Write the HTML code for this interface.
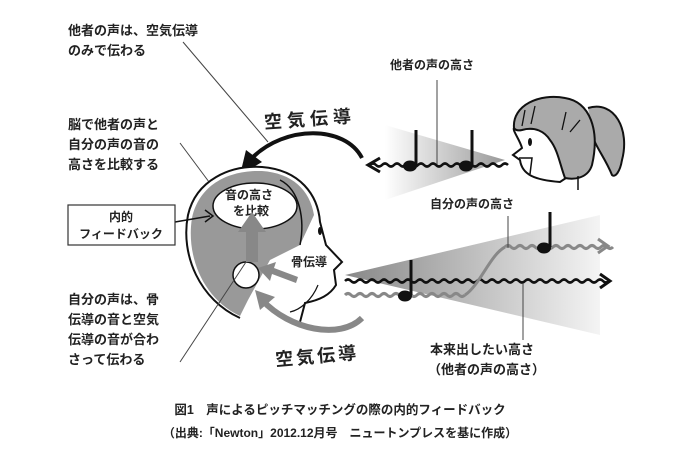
<!DOCTYPE html>
<html><head><meta charset="utf-8"><style>
html,body{margin:0;padding:0;background:#fff}
svg{display:block}
text{font-family:"Liberation Sans","Noto Sans CJK JP",sans-serif;font-weight:bold;fill:#222}
</style></head><body>
<svg id="s" width="680" height="474" viewBox="0 0 680 474" xmlns="http://www.w3.org/2000/svg">
<defs>
<linearGradient id="g1" x1="1" y1="0" x2="0" y2="0"><stop offset="0" stop-color="#999"/><stop offset="1" stop-color="#fff"/></linearGradient>
<linearGradient id="g2" x1="0" y1="0" x2="1" y2="0"><stop offset="0" stop-color="#888"/><stop offset="1" stop-color="#f4f4f4"/></linearGradient>
</defs>
<polygon points="505,160 385,125 385,200" fill="url(#g1)"/>
<polygon points="345,275 600,215 600,335" fill="url(#g2)"/>
<text x="68" y="35" font-size="13">他者の声は、空気伝導</text>
<text x="68" y="55" font-size="13">のみで伝わる</text>
<line x1="183" y1="42" x2="268" y2="142" stroke="#444" stroke-width="1"/>
<text x="68" y="129" font-size="13">脳で他者の声と</text>
<text x="68" y="149" font-size="13">自分の声の音の</text>
<text x="68" y="169" font-size="13">高さを比較する</text>
<line x1="180" y1="143" x2="215" y2="190" stroke="#444" stroke-width="1"/>
<text x="264" y="126" font-size="18" letter-spacing="5" transform="rotate(-4 300 120)">空気伝導</text>
<path d="M362,158 C345,125 285,125 252,158" fill="none" stroke="#111" stroke-width="4"/>
<polygon points="240,175 246,150 262,162" fill="#111"/>
<path d="M240,318 C200,300 180,255 188,215 C196,180 230,165 262,167 C300,170 318,195 320,222 L326,245 L342,262 L334,270 L336,285 C330,295 320,300 305,303 L300,322" fill="#fff" stroke="#111" stroke-width="2"/>
<path d="M240,316 C202,298 186,255 192,218 C200,182 232,170 262,171 C292,173 310,190 314,215 L300,245 L270,260 L248,300 Z" fill="#999"/>
<path d="M300,245 C305,220 300,190 280,180" fill="none" stroke="#111" stroke-width="1.5"/>
<ellipse cx="255" cy="206" rx="42" ry="23" fill="#fff" stroke="#111" stroke-width="1.5"/>
<ellipse cx="320" cy="231" rx="2" ry="4" fill="#111"/>
<circle cx="246" cy="275" r="13" fill="#fff" stroke="#111" stroke-width="1.5"/>
<path d="M318,285 C312,300 300,310 290,312" fill="none" stroke="#111" stroke-width="1.2"/>
<text x="225" y="199" font-size="12">音の高さ</text>
<text x="233" y="215" font-size="12">を比較</text>
<path d="M175,222 L210,216" stroke="#111" stroke-width="1.5"/>
<path d="M205,210 L213,216 L205,222" fill="none" stroke="#111" stroke-width="1.5"/>
<polygon points="246,262 246,232 238,232 252,212 266,232 258,232 258,262" fill="#888"/>
<polygon points="296,283 272,274 270,281 258,268 276,262 274,268 298,277" fill="#888"/>
<path d="M362,318 C340,340 290,330 262,300" fill="none" stroke="#888" stroke-width="6"/>
<polygon points="255,290 275,297 260,310" fill="#888"/>
<text x="291" y="266" font-size="12">骨伝導</text>
<rect x="68" y="205" width="107" height="40" fill="#fff" stroke="#333" stroke-width="1.2"/>
<text x="121" y="221" font-size="12" text-anchor="middle">内的</text>
<text x="121" y="238" font-size="12" text-anchor="middle">フィードバック</text>
<text x="68" y="304" font-size="13">自分の声は、骨</text>
<text x="68" y="324" font-size="13">伝導の音と空気</text>
<text x="68" y="344" font-size="13">伝導の音が合わ</text>
<text x="68" y="364" font-size="13">さって伝わる</text>
<line x1="180" y1="362" x2="246" y2="262" stroke="#444" stroke-width="1"/>
<text x="275" y="363" font-size="18" letter-spacing="3" transform="rotate(-5 310 355)">空気伝導</text>
<text x="390" y="69" font-size="12">他者の声の高さ</text>
<line x1="437" y1="80" x2="437" y2="165" stroke="#444" stroke-width="1"/>
<g id="waves"></g>
<path d="M380,158 L368,165 L380,172" fill="none" stroke="#111" stroke-width="3"/>
<ellipse cx="410" cy="166" rx="7" ry="5.5" fill="#111"/><line x1="416" y1="165" x2="416" y2="130" stroke="#111" stroke-width="3"/>
<ellipse cx="466" cy="166" rx="7" ry="5.5" fill="#111"/><line x1="472" y1="165" x2="472" y2="130" stroke="#111" stroke-width="3"/>
<!-- girl -->
<path d="M588,108 C615,100 630,130 622,160 C620,172 615,178 612,175 C606,160 598,150 594,140" fill="#aaa" stroke="#111" stroke-width="2"/>
<path d="M514,128 C512,130 520,140 522,148 L513,155 L520,160 C522,175 535,180 560,182 L566,178 L560,130 Z" fill="#fff" stroke="#111" stroke-width="2"/>
<path d="M514,128 C512,105 540,93 565,98 C590,102 600,130 592,165 C588,178 575,180 565,178 C560,165 558,150 550,140 C545,132 535,126 522,130 C518,131 515,130 514,128 Z" fill="#aaa" stroke="#111" stroke-width="2"/>
<path d="M519,158 L532,158 L530,174" fill="none" stroke="#111" stroke-width="1.5"/>
<ellipse cx="530" cy="142" rx="2" ry="4" fill="#111"/>
<line x1="578" y1="176" x2="578" y2="190" stroke="#111" stroke-width="1.5"/>
<path d="M525,110 L522,126 M535,106 L531,124 M566,112 L562,130 M580,120 L570,132" stroke="#111" stroke-width="1.3" fill="none"/>
<text x="430" y="208" font-size="12">自分の声の高さ</text>
<line x1="508" y1="216" x2="508" y2="248" stroke="#444" stroke-width="1"/>
<line x1="523" y1="283" x2="523" y2="340" stroke="#444" stroke-width="1"/>
<path d="M598,239 L608,246 L598,253" fill="none" stroke="#888" stroke-width="3"/>
<path d="M600,274 L610,281 L600,288" fill="none" stroke="#111" stroke-width="3"/>
<ellipse cx="405" cy="296" rx="7" ry="5.5" fill="#111"/><line x1="411" y1="295" x2="411" y2="260" stroke="#111" stroke-width="3"/>
<ellipse cx="544" cy="248" rx="7" ry="5.5" fill="#111"/><line x1="550" y1="247" x2="550" y2="212" stroke="#111" stroke-width="3"/>
<text x="430" y="354" font-size="13">本来出したい高さ</text>
<text x="428" y="374" font-size="13">（他者の声の高さ）</text>
<text x="340" y="414" font-size="12.5" text-anchor="middle">図1　声によるピッチマッチングの際の内的フィードバック</text>
<text x="340" y="437" font-size="12" text-anchor="middle">（出典:「Newton」2012.12月号　ニュートンプレスを基に作成）</text>
</svg>
<script>
(function(){
var g=document.getElementById('waves');
function wave(x1,x2,y,col,w){var d='M'+x1+','+y;var s=1;for(var x=x1;x<x2;x+=6){d+=' Q'+(x+3)+','+(y-3*s)+' '+(x+6)+','+y;s=-s;}
var p=document.createElementNS('http://www.w3.org/2000/svg','path');p.setAttribute('d',d);p.setAttribute('fill','none');p.setAttribute('stroke',col);p.setAttribute('stroke-width',w);g.appendChild(p);}
wave(370,505,165,'#111',2.5);
wave(345,608,281,'#111',2.5);
wave(345,465,295,'#888',3);
wave(505,608,247,'#888',3);
var p=document.createElementNS('http://www.w3.org/2000/svg','path');p.setAttribute('d','M465,295 C480,285 490,255 505,247');p.setAttribute('fill','none');p.setAttribute('stroke','#888');p.setAttribute('stroke-width','3');g.appendChild(p);
})();
</script>
</body></html>
